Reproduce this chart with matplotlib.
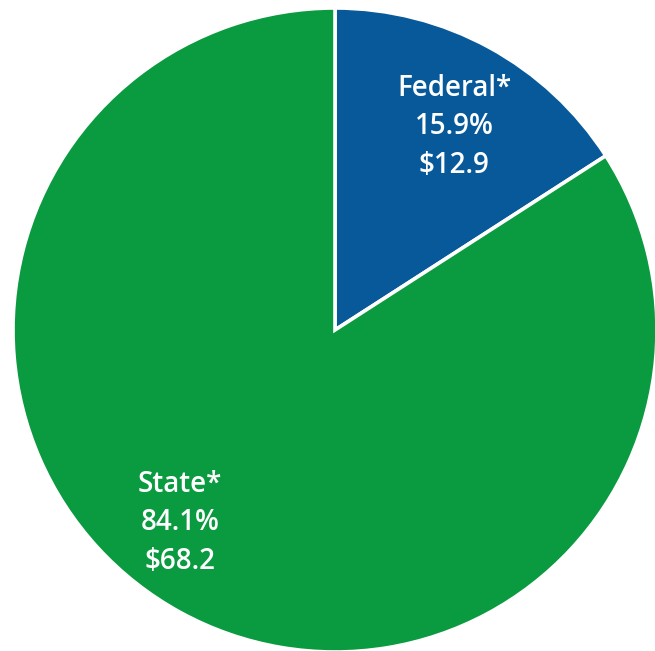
import matplotlib
matplotlib.use('Agg')
import matplotlib.pyplot as plt

labels = ['Federal*', 'State*']
shares = [15.9, 84.1]
amounts = [12.9, 68.2]
colors = ['#07599A', '#0A9A40']

W, H = 655, 651
cx, cy, R = 335, 330, 322

fig = plt.figure(figsize=(W / 100, H / 100), dpi=100)
ax = fig.add_axes([0, 0, 1, 1])

ax.pie(shares, colors=colors, startangle=90, counterclock=False, radius=1,
       wedgeprops=dict(edgecolor='white', linewidth=2.6))

ax.set_xlim(-cx / R, (W - cx) / R)
ax.set_ylim((cy - H) / R, cy / R)
ax.set_aspect('equal')
ax.axis('off')

# label anchor points in pixel space (x, y of middle line)
label_px = [(454, 127), (180, 523)]
for (px, py), lab, sh, amt in zip(label_px, labels, shares, amounts):
    x = (px - cx) / R
    y = (cy - py) / R
    ax.text(x, y, f'{lab}\n{sh:.1f}%\n${amt:.1f}', color='white',
            ha='center', va='center', fontsize=20, fontfamily='Open Sans',
            fontweight='semibold', linespacing=1.42)

fig.savefig('out.png', dpi=100)
